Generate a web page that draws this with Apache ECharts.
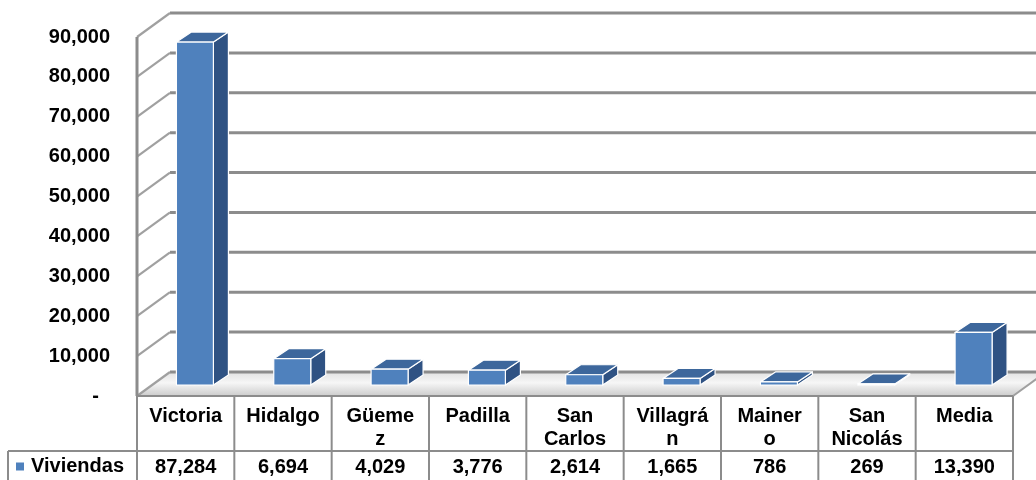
<!DOCTYPE html>
<html>
<head>
<meta charset="utf-8">
<script src="https://cdn.jsdelivr.net/npm/echarts@6/dist/echarts.min.js"></script>
<style>
html,body{margin:0;padding:0;background:#fff;}
#c{width:1036px;height:480px;}
</style>
</head>
<body>
<div id="c"></div>
<script>
const categories = ['Victoria', 'Hidalgo', 'Güemez', 'Padilla', 'San Carlos', 'Villagrán', 'Mainero', 'San Nicolás', 'Media'];
const viviendas = [87284, 6694, 4029, 3776, 2614, 1665, 786, 269, 13390];
const seriesName = 'Viviendas';
const yTicks = [0, 10000, 20000, 30000, 40000, 50000, 60000, 70000, 80000, 90000];

const FONT = '"Liberation Sans", Arial, sans-serif';
const DEPTH = [33, -24];
const GRID_COLOR = '#8c8c8c';

const chart = echarts.init(document.getElementById('c'), null, {renderer: 'canvas'});

function fmt(v) { return v.toLocaleString('en-US'); }

// Wrap a header label the way a narrow table cell does: at spaces, and inside words that are too long.
const measureCtx = document.createElement('canvas').getContext('2d');
measureCtx.font = 'bold 20px ' + FONT;
function tw(s) { return measureCtx.measureText(s).width; }
function wrapLabel(s, maxW) {
  const words = s.split(' ');
  const lines = [];
  let cur = '';
  words.forEach(function (w) {
    const cand = cur ? cur + ' ' + w : w;
    if (tw(cand) <= maxW) { cur = cand; return; }
    if (cur) lines.push(cur);
    cur = '';
    while (tw(w) > maxW) {
      let k = w.length - 1;
      while (k > 1 && tw(w.slice(0, k)) > maxW) k--;
      lines.push(w.slice(0, k));
      w = w.slice(k);
    }
    cur = w;
  });
  if (cur) lines.push(cur);
  return lines.join('\n');
}

function renderBackground(params, api) {
  const cs = params.coordSys;
  const L = cs.x, R = cs.x + cs.width, T = cs.y, B = cs.y + cs.height;
  const dx = DEPTH[0], dy = DEPTH[1];
  const ch = [];
  ch.push({
    type: 'polygon',
    shape: {points: [[L, B], [R, B], [R + dx, B + dy], [L + dx, B + dy]]},
    style: {
      fill: new echarts.graphic.LinearGradient(0, 0, 0, 1, [
        {offset: 0, color: '#e2e2e2'},
        {offset: 0.45, color: '#f6f6f6'},
        {offset: 1, color: '#cccccc'}
      ])
    }
  });
  yTicks.forEach(function (v) {
    const y = api.coord([0, v])[1];
    ch.push({type: 'line', shape: {x1: L + dx, y1: y + dy, x2: R + dx + 40, y2: y + dy},
      style: {stroke: GRID_COLOR, lineWidth: 3}});
    ch.push({type: 'line', shape: {x1: L, y1: y, x2: L + dx, y2: y + dy},
      style: {stroke: '#a0a0a0', lineWidth: 2.2}});
  });
  ch.push({type: 'line', shape: {x1: L, y1: T, x2: L, y2: B}, style: {stroke: GRID_COLOR, lineWidth: 3}});
  ch.push({type: 'line', shape: {x1: R, y1: B, x2: R + dx, y2: B + dy}, style: {stroke: '#a0a0a0', lineWidth: 2}});
  return {type: 'group', children: ch};
}

function renderBar(params, api) {
  const i = api.value(0), v = api.value(1);
  const band = api.size([1, 0])[0];
  const p0 = api.coord([i, 0]);
  const pv = api.coord([i, v]);
  const cx = p0[0], y0 = p0[1];
  const h = (y0 - pv[1]) * 0.985;
  const fl = cx - 0.095 * band, fr = fl + 0.38 * band;
  const fb = y0 - 11, ft = fb - h;
  const sdx = 15, sdy = -10;
  const edge = {stroke: '#ffffff', lineWidth: 1.2, lineJoin: 'round'};
  return {
    type: 'group',
    children: [
      {type: 'polygon', shape: {points: [[fr, fb], [fr, ft], [fr + sdx, ft + sdy], [fr + sdx, fb + sdy]]},
        style: Object.assign({fill: '#2f5283'}, edge)},
      {type: 'polygon', shape: {points: [[fl, ft], [fr, ft], [fr + sdx, ft + sdy], [fl + sdx, ft + sdy]]},
        style: Object.assign({fill: '#3d679c'}, edge)},
      {type: 'rect', shape: {x: fl, y: ft, width: fr - fl, height: fb - ft},
        style: Object.assign({fill: '#4f81bd'}, edge)}
    ]
  };
}

function renderTable(params, api) {
  const cs = params.coordSys;
  const L = cs.x, R = cs.x + cs.width, B = cs.y + cs.height;
  const band = api.size([1, 0])[0];
  const rowMid = B + 55, bottom = 482, leftCell = 8;
  const st = {stroke: '#8c8c8c', lineWidth: 2};
  const ch = [];
  ch.push({type: 'line', shape: {x1: L, y1: B, x2: R, y2: B}, style: st});
  ch.push({type: 'line', shape: {x1: leftCell, y1: rowMid, x2: R, y2: rowMid}, style: st});
  ch.push({type: 'line', shape: {x1: leftCell, y1: rowMid, x2: leftCell, y2: bottom}, style: st});
  for (let k = 0; k <= categories.length; k++) {
    const x = api.coord([k, 0])[0] - band / 2;
    ch.push({type: 'line', shape: {x1: x, y1: B, x2: x, y2: bottom}, style: st});
  }
  return {type: 'group', children: ch};
}

const option = {
  animation: false,
  backgroundColor: '#ffffff',
  textStyle: {fontFamily: FONT},
  grid: {left: 137, right: 23, top: 37, bottom: 84, containLabel: false},
  legend: {
    data: [seriesName],
    left: 16, top: 455, padding: 0,
    icon: 'rect', itemWidth: 8, itemHeight: 8,
    textStyle: {fontFamily: FONT, fontWeight: 'bold', fontSize: 20, color: '#000', lineHeight: 23, padding: [0, 0, 0, 2]}
  },
  xAxis: [
    {
      type: 'category', data: categories, boundaryGap: true,
      axisLine: {show: false}, axisTick: {show: false}, splitLine: {show: false},
      axisLabel: {
        interval: 0, margin: 9, fontFamily: FONT, fontWeight: 'bold', fontSize: 20, color: '#000',
        lineHeight: 23, verticalAlign: 'top', align: 'center',
        formatter: function (val) { return wrapLabel(val, 75); }
      }
    },
    {
      type: 'category', data: categories, position: 'bottom', offset: 52, boundaryGap: true,
      axisLine: {show: false}, axisTick: {show: false}, splitLine: {show: false},
      axisLabel: {
        interval: 0, margin: 8, fontFamily: FONT, fontWeight: 'bold', fontSize: 20, color: '#000',
        lineHeight: 23, verticalAlign: 'top',
        formatter: function (val, idx) { return fmt(viviendas[idx]); }
      }
    }
  ],
  yAxis: {
    type: 'value', min: 0, max: 90000, interval: 10000,
    axisLine: {show: false}, axisTick: {show: false}, splitLine: {show: false},
    axisLabel: {
      margin: 27, fontFamily: FONT, fontWeight: 'bold', fontSize: 20, color: '#000',
      formatter: function (v) { return v === 0 ? '-  ' : fmt(v); }
    }
  },
  series: [
    {
      type: 'custom', name: '_bg', silent: true, clip: false, z: 1,
      renderItem: renderBackground, data: [[0, 0]], encode: {x: 0, y: 1}
    },
    {
      type: 'custom', name: seriesName, clip: false, z: 2,
      itemStyle: {color: '#4f81bd'},
      renderItem: renderBar,
      data: viviendas.map(function (v, i) { return [i, v]; }),
      encode: {x: 0, y: 1}
    },
    {
      type: 'custom', name: '_table', silent: true, clip: false, z: 3,
      renderItem: renderTable, data: [[0, 0]], encode: {x: 0, y: 1}
    }
  ]
};
chart.setOption(option);
</script>
</body>
</html>
